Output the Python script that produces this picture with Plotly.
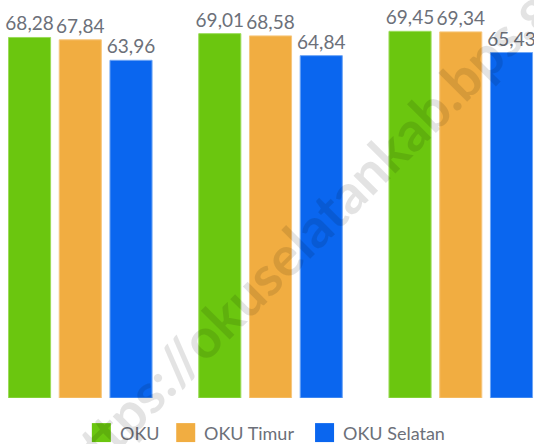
import plotly.graph_objects as go

# Kategori (tahun/periode) dan nilai tiap kabupaten
categories = ["2019", "2020", "2021"]
series_names = ["OKU", "OKU Timur", "OKU Selatan"]
oku = [68.28, 69.01, 69.45]
oku_timur = [67.84, 68.58, 69.34]
oku_selatan = [63.96, 64.84, 65.43]
colors = ["#6bc60f", "#f1ad41", "#0a66ef"]
edge_colors = ["#9bdc5a", "#f7c77e", "#6fa6f5"]

values = [oku, oku_timur, oku_selatan]
text_color = "#6c7079"

fig = go.Figure()
for name, vals, col, edge in zip(series_names, values, colors, edge_colors):
    fig.add_trace(go.Bar(
        x=categories,
        y=vals,
        name=name,
        marker=dict(color=col, line=dict(color=edge, width=1)),
        text=[f"{v:.2f}".replace(".", ",") for v in vals],
        textposition="outside",
        constraintext="none",
        cliponaxis=False,
        textfont=dict(family="Lato", size=19, color=text_color),
        showlegend=False,
    ))

# Legenda manual: kotak warna + nama seri di bawah grafik
legend_x = [0.172, 0.330, 0.590]
sq_w = 19 / 534
sq_top, sq_bot = -0.0634, -0.1113
for lx, name, col in zip(legend_x, series_names, colors):
    fig.add_shape(type="rect", xref="paper", yref="paper",
                  x0=lx, x1=lx + sq_w, y0=sq_bot, y1=sq_top,
                  fillcolor=col, line=dict(width=0))
    fig.add_annotation(xref="paper", yref="paper",
                       x=lx + sq_w + 7 / 534, y=(sq_top + sq_bot) / 2,
                       xanchor="left", yanchor="middle", showarrow=False,
                       text=name, font=dict(family="Lato", size=18, color=text_color))

# Watermark diagonal
fig.add_annotation(xref="paper", yref="paper", x=0.628, y=0.49,
                   xanchor="center", yanchor="middle", showarrow=False,
                   text="<b>https://okuselatankab.bps.go.id</b>", textangle=-45,
                   font=dict(family="Lato", size=55, color="rgba(0,0,0,0.11)"))

fig.update_layout(
    width=534, height=444,
    margin=dict(l=0, r=0, t=2, b=46),
    barmode="group",
    bargap=0.2,
    bargroupgap=0.17,
    plot_bgcolor="white",
    paper_bgcolor="white",
    xaxis=dict(range=[-0.422, 2.385], showticklabels=False, showgrid=False,
               zeroline=False, showline=False, ticks=""),
    yaxis=dict(range=[0, 75], showticklabels=False, showgrid=False,
               zeroline=False, showline=False, ticks=""),
)

fig.write_html("out.html")
